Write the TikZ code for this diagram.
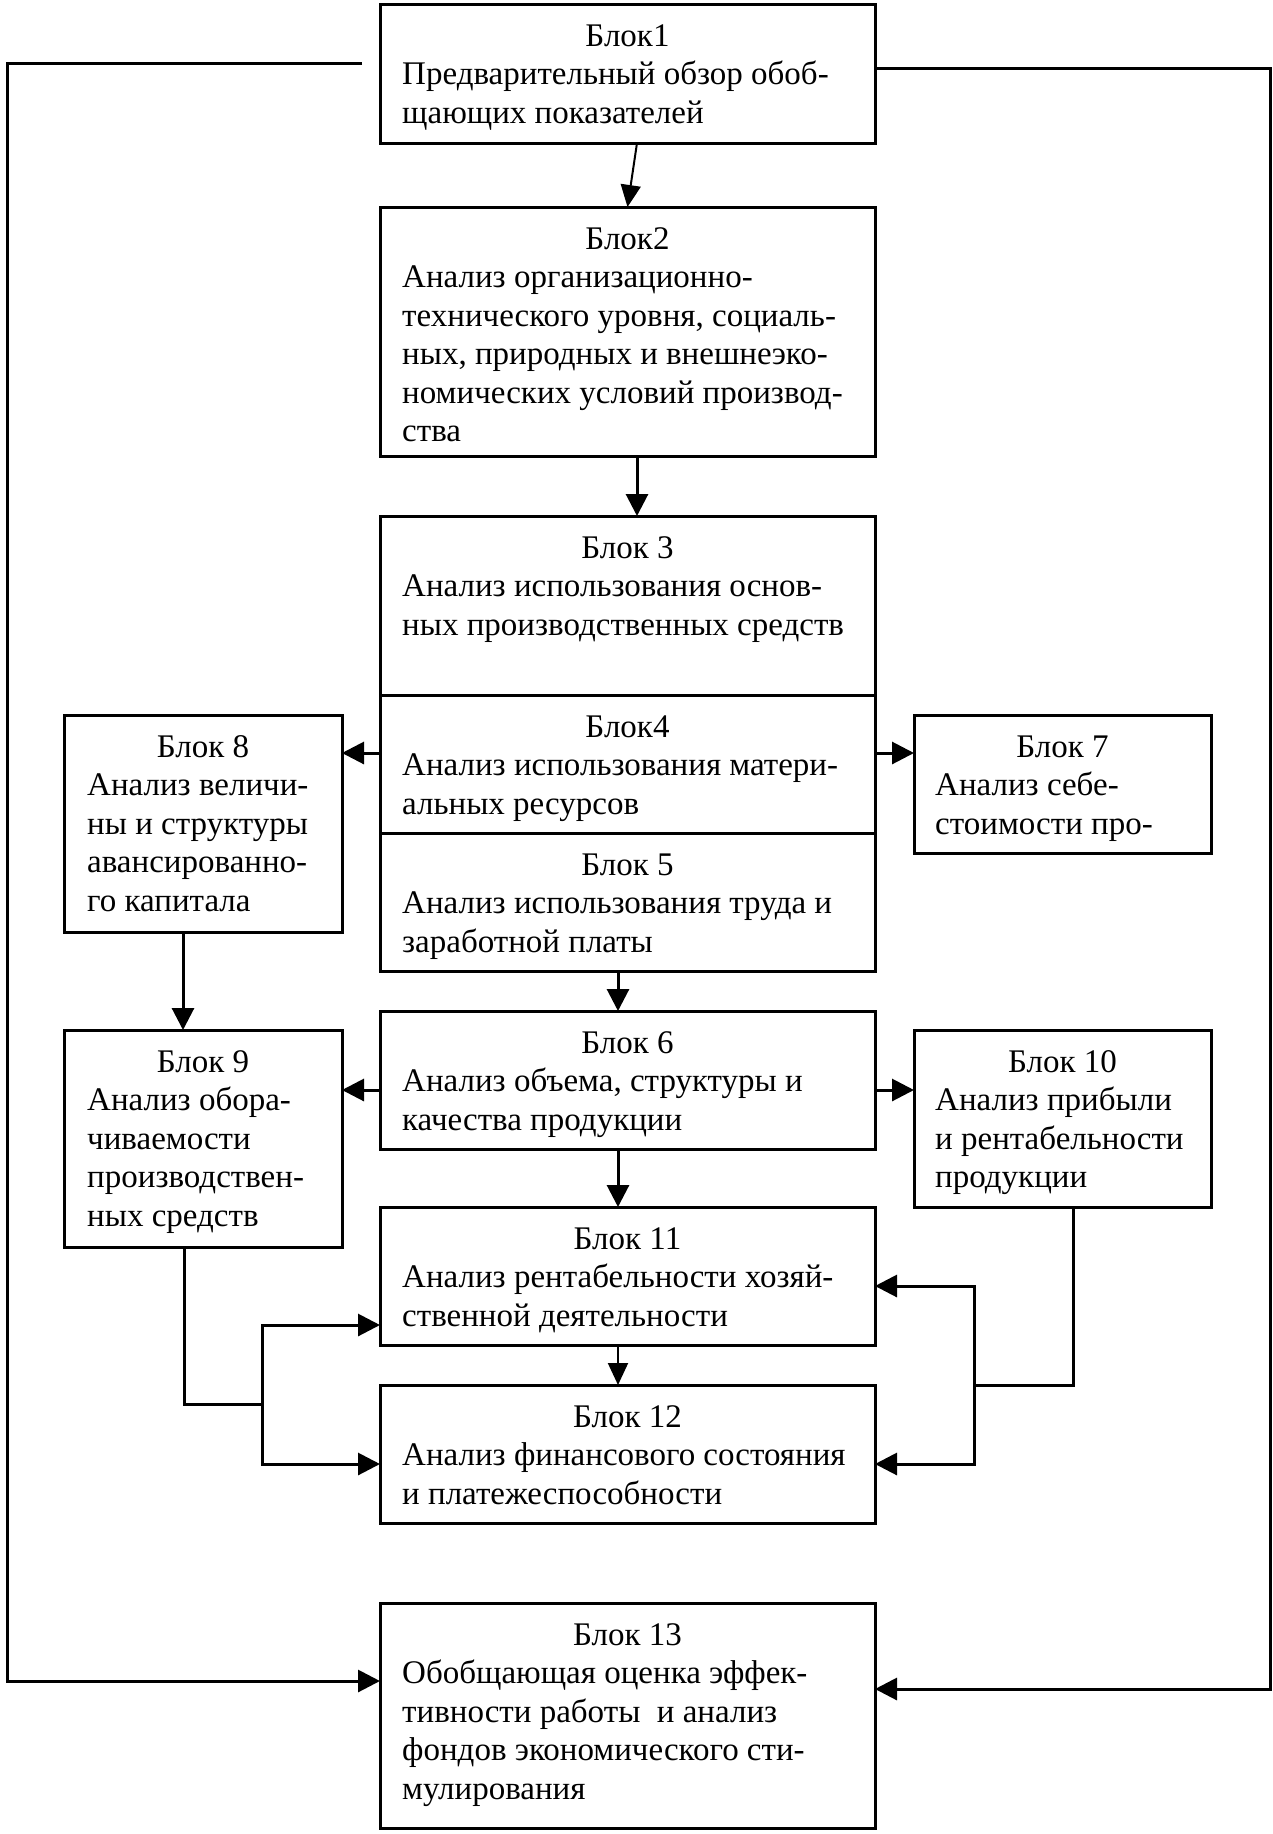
\documentclass[tikz,border=0pt]{standalone}
\usepackage{fontspec}
\setmainfont{Liberation Serif}
\usetikzlibrary{arrows.meta}
\begin{document}
\begin{tikzpicture}[x=1pt,y=-1pt,
  box/.style={draw,line width=3pt,inner sep=0pt,outer sep=0pt,anchor=north west},
  ttl/.style={anchor=base,inner sep=0pt,font=\fontsize{33}{38.5}\selectfont},
  bdy/.style={anchor=base west,inner sep=0pt,align=left,font=\fontsize{33}{38.5}\selectfont},
  conn/.style={line width=3pt},
  arr/.style={line width=3pt,-{Triangle[length=22pt,width=22pt]}},
  arrthin/.style={line width=2pt,-{Triangle[length=22pt,width=20pt]}}]
\useasboundingbox (0,0) rectangle (1273,1834);
% boxes
\node[box,minimum width=495pt,minimum height=139pt] (n1) at (380,4) {};
\node[box,minimum width=495pt,minimum height=249pt] (n2) at (380,207) {};
\node[box,minimum width=495pt,minimum height=179pt] (n3) at (380,516) {};
\node[box,minimum width=495pt,minimum height=138pt] (n4) at (380,695) {};
\node[box,minimum width=495pt,minimum height=138pt] (n5) at (380,833) {};
\node[box,minimum width=495pt,minimum height=138pt] (n6) at (380,1011) {};
\node[box,minimum width=495pt,minimum height=138pt] (n11) at (380,1207) {};
\node[box,minimum width=495pt,minimum height=138pt] (n12) at (380,1385) {};
\node[box,minimum width=495pt,minimum height=225pt] (n13) at (380,1603) {};
\node[box,minimum width=278pt,minimum height=217pt] (n8) at (64,715) {};
\node[box,minimum width=278pt,minimum height=217pt] (n9) at (64,1030) {};
\node[box,minimum width=297pt,minimum height=138pt] (n7) at (914,715) {};
\node[box,minimum width=297pt,minimum height=177pt] (n10) at (914,1030) {};
% texts (body nodes are anchored at the baseline of their last line)
\node[ttl] (t1) at (627.5,46) {Блок1};
\node[bdy] (b1) at (402,123) {Предварительный обзор обоб-\\щающих показателей};
\node[ttl] (t2) at (627.5,249) {Блок2};
\node[bdy] (b2) at (402,441.5) {Анализ организационно-\\технического уровня, социаль-\\ных, природных и внешнеэко-\\номических условий производ-\\ства};
\node[ttl] (t3) at (627.5,558) {Блок 3};
\node[bdy] (b3) at (402,635) {Анализ использования основ-\\ных производственных средств};
\node[ttl] (t4) at (627.5,737) {Блок4};
\node[bdy] (b4) at (402,814) {Анализ использования матери-\\альных ресурсов};
\node[ttl] (t5) at (627.5,875) {Блок 5};
\node[bdy] (b5) at (402,952) {Анализ использования труда и\\заработной платы};
\node[ttl] (t6) at (627.5,1053) {Блок 6};
\node[bdy] (b6) at (402,1130) {Анализ объема, структуры и\\качества продукции};
\node[ttl] (t11) at (627.5,1249) {Блок 11};
\node[bdy] (b11) at (402,1326) {Анализ рентабельности хозяй-\\ственной деятельности};
\node[ttl] (t12) at (627.5,1427) {Блок 12};
\node[bdy] (b12) at (402,1504) {Анализ финансового состояния\\и платежеспособности};
\node[ttl] (t13) at (627.5,1645) {Блок 13};
\node[bdy] (b13) at (402,1799) {Обобщающая оценка эффек-\\тивности работы \ и анализ\\фондов экономического сти-\\мулирования};
\node[ttl] (t8) at (203,757) {Блок 8};
\node[bdy] (b8) at (87,911) {Анализ величи-\\ны и структуры\\авансированно-\\го капитала};
\node[ttl] (t9) at (203,1072) {Блок 9};
\node[bdy] (b9) at (87,1226) {Анализ обора-\\чиваемости\\производствен-\\ных средств};
\node[ttl] (t7) at (1062.5,757) {Блок 7};
\node[bdy] (b7) at (935,834) {Анализ себе-\\стоимости про-};
\node[ttl] (t10) at (1062.5,1072) {Блок 10};
\node[bdy] (b10) at (935,1187.5) {Анализ прибыли\\и рентабельности\\продукции};
% helper coordinates
\coordinate (fbL) at (362,63);
\coordinate (xL) at (7,0);
\coordinate (xR) at (1270,0);
\coordinate (y68) at (0,68);
\coordinate (y753) at (0,753);
\coordinate (y1090) at (0,1090);
\coordinate (y1286) at (0,1286);
\coordinate (y1325) at (0,1325);
\coordinate (y1464) at (0,1464);
\coordinate (y1681) at (0,1681);
\coordinate (y1689) at (0,1689);
\coordinate (jL) at (262,1404);
\coordinate (jR) at (974,1385);
% connectors
\draw[arr] (fbL) -| (xL |- y1681) -- (n13.west |- y1681);
\draw[arr] (n1.east |- y68) -| (xR |- y1689) -- (n13.east |- y1689);
\draw[arrthin] ([xshift=9.5pt]n1.south) -- (n2.north);
\draw[arr] ([xshift=9.5pt]n2.south) -- ([xshift=9.5pt]n3.north);
\draw[arr] (n4.west |- y753) -- (n8.east |- y753);
\draw[arr] (n4.east |- y753) -- (n7.west |- y753);
\draw[arr] ([xshift=-20pt]n8.south) -- ([xshift=-20pt]n9.north);
\draw[arr] ([xshift=-9.5pt]n5.south) -- ([xshift=-9.5pt]n6.north);
\draw[arr] (n6.west |- y1090) -- (n9.east |- y1090);
\draw[arr] (n6.east |- y1090) -- (n10.west |- y1090);
\draw[arr] ([xshift=-9.5pt]n6.south) -- ([xshift=-9.5pt]n11.north);
\draw[arrthin] ([xshift=-9.5pt]n11.south) -- ([xshift=-9.5pt]n12.north);
\draw[conn] ([xshift=-19pt]n9.south) |- (jL);
\draw[arr] (jL) |- (n11.west |- y1325);
\draw[arr] (jL) |- (n12.west |- y1464);
\draw[conn] ([xshift=10.5pt]n10.south) |- (jR);
\draw[arr] (jR) |- (n11.east |- y1286);
\draw[arr] (jR) |- (n12.east |- y1464);
\end{tikzpicture}
\end{document}
